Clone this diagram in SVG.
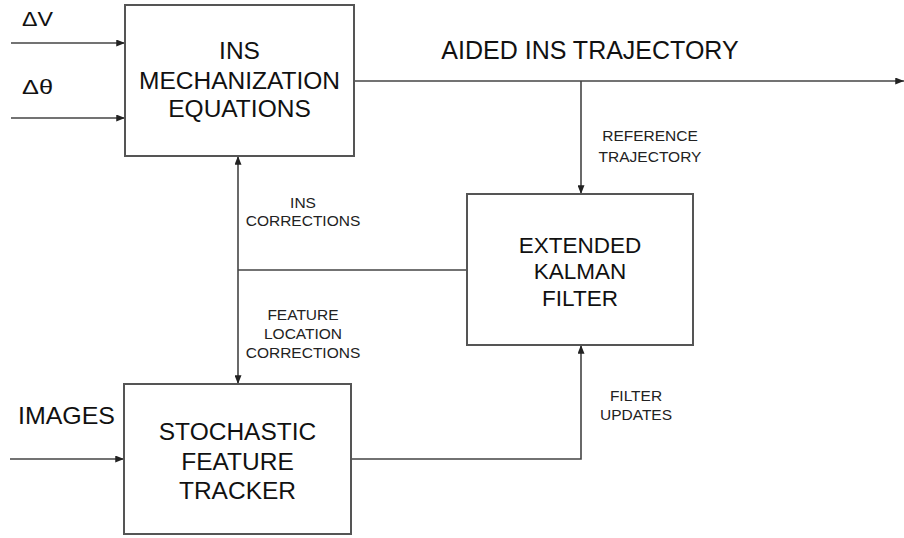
<svg xmlns="http://www.w3.org/2000/svg" width="904" height="538" viewBox="0 0 904 538">
  <defs>
    <marker id="arrow" viewBox="0 0 10 8" refX="10" refY="4" markerWidth="9" markerHeight="7" markerUnits="userSpaceOnUse" orient="auto-start-reverse">
      <path d="M0,0 L10,4 L0,8 Z" fill="#222"/>
    </marker>
    <style>
      .box { fill: #ffffff; stroke: #555555; stroke-width: 2; }
      .wire { fill: none; stroke: #444444; stroke-width: 1.6; }
      .big { font-family: "Liberation Sans", Arial, sans-serif; font-size: 24.5px; fill: #111111; text-anchor: middle; }
      .ekf { font-family: "Liberation Sans", Arial, sans-serif; font-size: 22.5px; fill: #111111; text-anchor: middle; }
      .small { font-family: "Liberation Sans", Arial, sans-serif; font-size: 15.5px; fill: #222222; text-anchor: middle; }
      .input { font-family: "Liberation Sans", Arial, sans-serif; font-size: 21px; fill: #111111; }
    </style>
  </defs>

  <rect width="904" height="538" fill="#ffffff"/>

  <!-- connectors -->
  <g id="connectors">
    <path class="wire" d="M11,43 H125" marker-end="url(#arrow)"/>
    <path class="wire" d="M11,118 H125" marker-end="url(#arrow)"/>
    <path class="wire" d="M354,81 H904" marker-end="url(#arrow)"/>
    <path class="wire" d="M581,81 V194" marker-end="url(#arrow)"/>
    <path class="wire" d="M238,156 V384" marker-start="url(#arrow)" marker-end="url(#arrow)"/>
    <path class="wire" d="M238,270 H467"/>
    <path class="wire" d="M10,459 H124" marker-end="url(#arrow)"/>
    <path class="wire" d="M351,459 H581 V345" marker-end="url(#arrow)"/>
  </g>

  <!-- inputs and signal labels -->
  <g id="labels">
    <text class="input" x="22" y="26" textLength="31" lengthAdjust="spacingAndGlyphs">ΔV</text>
    <text class="input" x="22" y="94" textLength="31" lengthAdjust="spacingAndGlyphs">Δθ</text>
    <text class="big" x="590" y="59" style="font-size:25px">AIDED INS TRAJECTORY</text>
    <text class="small" x="650" y="141">REFERENCE</text>
    <text class="small" x="650" y="162">TRAJECTORY</text>
    <text class="small" x="303" y="208">INS</text>
    <text class="small" x="303" y="226">CORRECTIONS</text>
    <text class="small" x="303" y="320">FEATURE</text>
    <text class="small" x="303" y="339">LOCATION</text>
    <text class="small" x="303" y="358">CORRECTIONS</text>
    <text class="small" x="636" y="401">FILTER</text>
    <text class="small" x="636" y="420">UPDATES</text>
    <text class="input" x="18" y="424" style="font-size:24px" textLength="97" lengthAdjust="spacingAndGlyphs">IMAGES</text>
  </g>

  <g id="ins-mechanization">
    <rect class="box" x="125" y="5" width="229" height="151"/>
    <text class="big" x="239.5" y="59">INS</text>
    <text class="big" x="239.5" y="89">MECHANIZATION</text>
    <text class="big" x="239.5" y="117">EQUATIONS</text>
  </g>

  <g id="extended-kalman-filter">
    <rect class="box" x="467" y="194" width="226" height="151"/>
    <text class="ekf" x="580" y="253">EXTENDED</text>
    <text class="ekf" x="580" y="279">KALMAN</text>
    <text class="ekf" x="580" y="306">FILTER</text>
  </g>

  <g id="stochastic-feature-tracker">
    <rect class="box" x="124" y="384" width="227" height="150"/>
    <text class="big" x="237.5" y="440">STOCHASTIC</text>
    <text class="big" x="237.5" y="470">FEATURE</text>
    <text class="big" x="237.5" y="499">TRACKER</text>
  </g>
</svg>
